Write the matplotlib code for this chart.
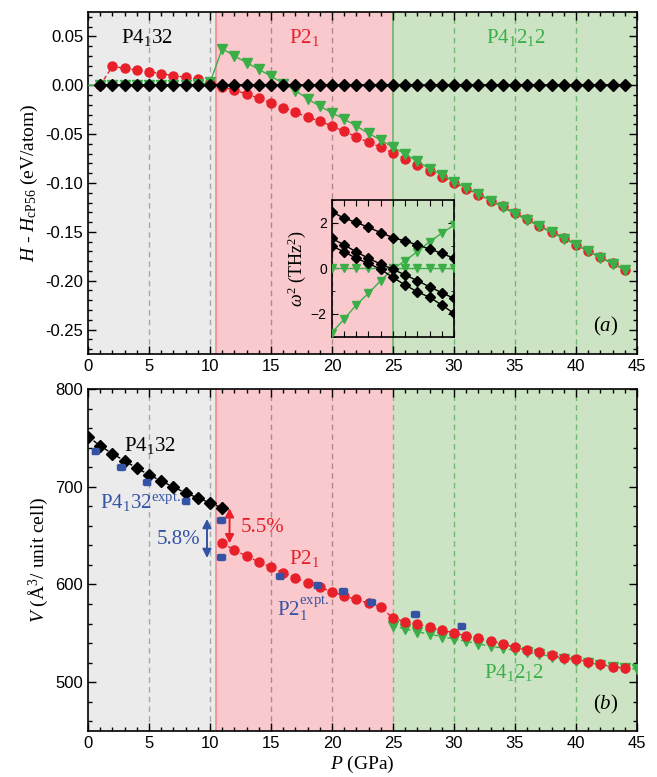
import numpy as np
import matplotlib
matplotlib.use("Agg")
from matplotlib import pyplot as plt
from matplotlib.ticker import MultipleLocator

# ---- data ----
# (a) enthalpy difference vs. cP56 (eV/atom)
p_black_a = list(range(1, 45))
h_black = [0.0] * 44

p_red_a = list(range(1, 45))
h_red = [0.0, 0.0194, 0.0173, 0.0156, 0.0139, 0.0119, 0.0099, 0.0082, 0.0061, 0.0037,
         -0.0015, -0.0051, -0.0088, -0.0133, -0.0180, -0.0228, -0.0276, -0.0327, -0.0366, -0.0418,
         -0.0473, -0.0527, -0.0585, -0.0633, -0.0694, -0.0752, -0.0813, -0.0874, -0.0935, -0.0997,
         -0.1060, -0.1120, -0.1180, -0.1240, -0.1310, -0.1370, -0.1440, -0.1500, -0.1560, -0.1630,
         -0.1700, -0.1760, -0.1820, -0.1890]

p_green_a = list(range(0, 45))
h_green = [0.0, 0.0, 0.0, 0.0, 0.0, 0.0, 0.0, 0.0, 0.0, 0.001, 0.003,
           0.0374, 0.0300, 0.0231, 0.0163, 0.0092, 0.0017, -0.0054, -0.0139, -0.0214, -0.0282,
           -0.0347, -0.0418, -0.0493, -0.0561, -0.0633, -0.0704, -0.0779, -0.0854, -0.0915, -0.0986,
           -0.1050, -0.1110, -0.1180, -0.1250, -0.1316, -0.1380, -0.1445, -0.1506, -0.1570, -0.1630,
           -0.1700, -0.1765, -0.1826, -0.1887]

# inset: phonon frequencies squared (THz^2), 20-30 GPa
p_inset = list(range(20, 31))
w2_black1 = [2.49, 2.20, 2.02, 1.80, 1.57, 1.35, 1.20, 1.03, 0.85, 0.66, 0.44]
w2_black2 = [1.32, 1.03, 0.73, 0.44, 0.19, -0.04, -0.29, -0.54, -0.81, -1.07, -1.32]
w2_black3 = [0.98, 0.73, 0.44, 0.22, -0.04, -0.40, -0.73, -1.03, -1.27, -1.61, -1.98]
w2_green_soft = [-2.83, -2.24, -1.61, -1.10, -0.54, -0.04, 0.34, 0.73, 1.17, 1.54, 1.90]
w2_green_zero = [0.0] * 11

# (b) volume per unit cell (A^3)
p_black_b = list(range(0, 12))
v_black = [751.3, 741.8, 733.7, 726.5, 719.0, 712.2, 705.8, 699.7, 693.6, 688.5, 683.4, 678.3]

p_red_b = list(range(11, 45))
v_red = [642.5, 635.0, 629.0, 623.0, 617.6, 611.9, 607.0, 601.0, 597.0, 592.5,
         588.0, 584.7, 580.6, 577.0, 565.3, 561.9, 559.5, 556.0, 553.0, 550.6,
         547.2, 544.9, 542.2, 539.0, 535.5, 532.6, 530.6, 527.6, 525.1, 523.5,
         520.7, 518.4, 515.9, 514.3]

p_green_b = list(range(25, 46))
v_green = [557.4, 554.4, 551.6, 549.0, 546.5, 544.2, 541.8, 539.1, 536.7, 534.7,
           532.6, 530.6, 528.6, 526.1, 524.0, 522.0, 520.0, 517.7, 515.9, 514.3, 513.3]

p_expt = [0.6, 2.7, 4.8, 8.0, 10.9, 10.9, 15.7, 18.8, 20.9, 23.2, 26.8, 30.6]
v_expt = [737.0, 720.0, 705.0, 685.0, 666.0, 628.0, 608.5, 599.0, 593.0, 582.0, 570.0, 557.0]

# ---- style ----
plt.rcParams['font.family'] = ['Liberation Sans', 'DejaVu Sans']
plt.rcParams['mathtext.fontset'] = 'custom'
plt.rcParams['mathtext.rm'] = 'Liberation Serif'
plt.rcParams['mathtext.it'] = 'Liberation Serif:italic'
plt.rcParams['mathtext.bf'] = 'Liberation Serif:bold'

RED = '#e8202a'
GREEN = '#3cae48'
BLUE = '#3553a4'
SERIF = ['Liberation Serif', 'DejaVu Serif']

bg_gray = '#ebebeb'
bg_pink = '#f9c9cd'
bg_green = '#cce4c4'


def decorate(ax, solid25):
    ax.axvspan(0, 10.5, color=bg_gray, zorder=0, lw=0)
    ax.axvspan(10.5, 25, color=bg_pink, zorder=0, lw=0)
    ax.axvspan(25, 45, color=bg_green, zorder=0, lw=0)
    for x in (5, 10):
        ax.axvline(x, color='#a8a8a8', ls=(0, (4, 3)), lw=1, zorder=1)
    for x in (15, 20):
        ax.axvline(x, color='#b0898d', ls=(0, (4, 3)), lw=1, zorder=1)
    for x in (30, 35, 40):
        ax.axvline(x, color='#74b874', ls=(0, (4, 3)), lw=1, zorder=1)
    ax.axvline(10.5, color='#f08c92', lw=1.2, zorder=1)
    if solid25:
        ax.axvline(25, color='#6cb46c', lw=1.2, zorder=1)
    else:
        ax.axvline(25, color='#8fae8f', ls=(0, (4, 3)), lw=1, zorder=1)
    ax.set_xlim(0, 45)
    ax.xaxis.set_major_locator(MultipleLocator(5))
    ax.xaxis.set_minor_locator(MultipleLocator(1))
    ax.tick_params(which='both', direction='in', top=True, right=True, labelsize=12)
    ax.tick_params(which='major', length=6, width=1)
    ax.tick_params(which='minor', length=3, width=1)
    for s in ax.spines.values():
        s.set_linewidth(1.2)


fig = plt.figure(figsize=(6.57, 7.77), dpi=100)
ax1 = fig.add_axes([0.134, 0.5444, 0.8356, 0.4402])
ax2 = fig.add_axes([0.134, 0.0592, 0.8356, 0.4402])

# ---- panel (a) ----
decorate(ax1, True)
ax1.plot(p_red_a, h_red, ls=(0, (3, 2)), color=RED, lw=1, marker='o', ms=6.5, mec=RED, zorder=3)
ax1.plot(p_green_a, h_green, ls='-', color=GREEN, lw=1, marker='v', ms=7.5, mec=GREEN, zorder=4,
         markevery=list(range(1, 45)))
ax1.plot(p_black_a, h_black, ls='-', color='black', lw=1.2, marker='D', ms=6, zorder=5)
ax1.set_ylim(-0.275, 0.075)
ax1.yaxis.set_major_locator(MultipleLocator(0.05))
ax1.yaxis.set_minor_locator(MultipleLocator(0.01))
ax1.yaxis.set_major_formatter(matplotlib.ticker.FormatStrFormatter('%.2f'))
ax1.set_ylabel(r'$H$ - $H_{\rm cP56}$ (eV/atom)', fontsize=14, family=SERIF, labelpad=4)

ax1.text(4.85, 0.049, r'P4$_1$32', color='black', fontsize=15, family=SERIF, ha='center', va='center')
ax1.text(17.7, 0.049, r'P2$_1$', color=RED, fontsize=15, family=SERIF, ha='center', va='center')
ax1.text(35.1, 0.049, r'P4$_1$2$_1$2', color=GREEN, fontsize=15, family=SERIF, ha='center', va='center')
ax1.text(42.4, -0.247, r'($a$)', fontsize=15, family=SERIF, ha='center', va='center')

# inset
axi = fig.add_axes([0.5049, 0.5667, 0.1861, 0.1759])
axi.set_facecolor('none')
axi.plot(p_inset, w2_green_zero, ls='-', color=GREEN, lw=1, marker='v', ms=6, mec=GREEN, zorder=3)
axi.plot(p_inset, w2_green_soft, ls='-', color=GREEN, lw=1, marker='v', ms=6, mec=GREEN, zorder=3)
for w2 in (w2_black1, w2_black2, w2_black3):
    axi.plot(p_inset, w2, ls='-', color='black', lw=1, marker='D', ms=5, zorder=4)
axi.set_xlim(20, 30)
axi.set_ylim(-3, 3)
axi.xaxis.set_major_locator(MultipleLocator(1))
axi.yaxis.set_major_locator(MultipleLocator(2))
axi.yaxis.set_minor_locator(MultipleLocator(1))
axi.tick_params(which='both', direction='in', top=True, right=True, labelsize=10, labelbottom=False)
axi.tick_params(which='major', length=4)
axi.tick_params(which='minor', length=2)
for s in axi.spines.values():
    s.set_linewidth(1.2)
axi.set_ylabel(r'$\omega^2$ (THz$^2$)', fontsize=13, family=SERIF, labelpad=2)

# ---- panel (b) ----
decorate(ax2, False)
ax2.plot(p_black_b, v_black, ls=(0, (3, 2)), color='black', lw=1, marker='D', ms=6, zorder=4)
ax2.plot(p_green_b, v_green, ls=(0, (3, 2)), color=GREEN, lw=1, marker='v', ms=7.5, mec=GREEN, zorder=3)
ax2.plot(p_red_b, v_red, ls=(0, (3, 2)), color=RED, lw=1, marker='o', ms=6.5, mec=RED, zorder=4)
ax2.errorbar(p_expt, v_expt, xerr=0.3, fmt='s', color=BLUE, ms=4, capsize=2, elinewidth=1, zorder=5)
ax2.set_ylim(450, 800)
ax2.yaxis.set_major_locator(MultipleLocator(100))
ax2.yaxis.set_minor_locator(MultipleLocator(20))
ax2.set_ylabel(r'$V$ (Å$^3$/ unit cell)', fontsize=14, family=SERIF, labelpad=4)
ax2.set_xlabel(r'$P$ (GPa)', fontsize=14, family=SERIF, labelpad=2)

ax2.text(5.1, 742, r'P4$_1$32', color='black', fontsize=15, family=SERIF, ha='center', va='center')
ax2.text(4.3, 684, r'P4$_1$32$^{\rm expt.}$', color=BLUE, fontsize=15, family=SERIF, ha='center', va='center')
ax2.text(7.4, 646, '5.8%', color=BLUE, fontsize=15, family=SERIF, ha='center', va='center')
ax2.text(14.3, 658, '5.5%', color=RED, fontsize=15, family=SERIF, ha='center', va='center')
ax2.text(17.7, 627, r'P2$_1$', color=RED, fontsize=15, family=SERIF, ha='center', va='center')
ax2.text(17.6, 575, r'P2$_1^{\rm expt.}$', color=BLUE, fontsize=15, family=SERIF, ha='center', va='center')
ax2.text(34.9, 510, r'P4$_1$2$_1$2', color=GREEN, fontsize=15, family=SERIF, ha='center', va='center')
ax2.text(42.4, 477, r'($b$)', fontsize=15, family=SERIF, ha='center', va='center')

ax2.annotate('', xy=(9.75, 627), xytext=(9.75, 667),
             arrowprops=dict(arrowstyle='<|-|>', color=BLUE, lw=1.4, mutation_scale=13, shrinkA=0, shrinkB=0))
ax2.annotate('', xy=(11.6, 642), xytext=(11.6, 678),
             arrowprops=dict(arrowstyle='<|-|>', color=RED, lw=1.4, mutation_scale=13, shrinkA=0, shrinkB=0))

fig.savefig('out.png', dpi=100)
